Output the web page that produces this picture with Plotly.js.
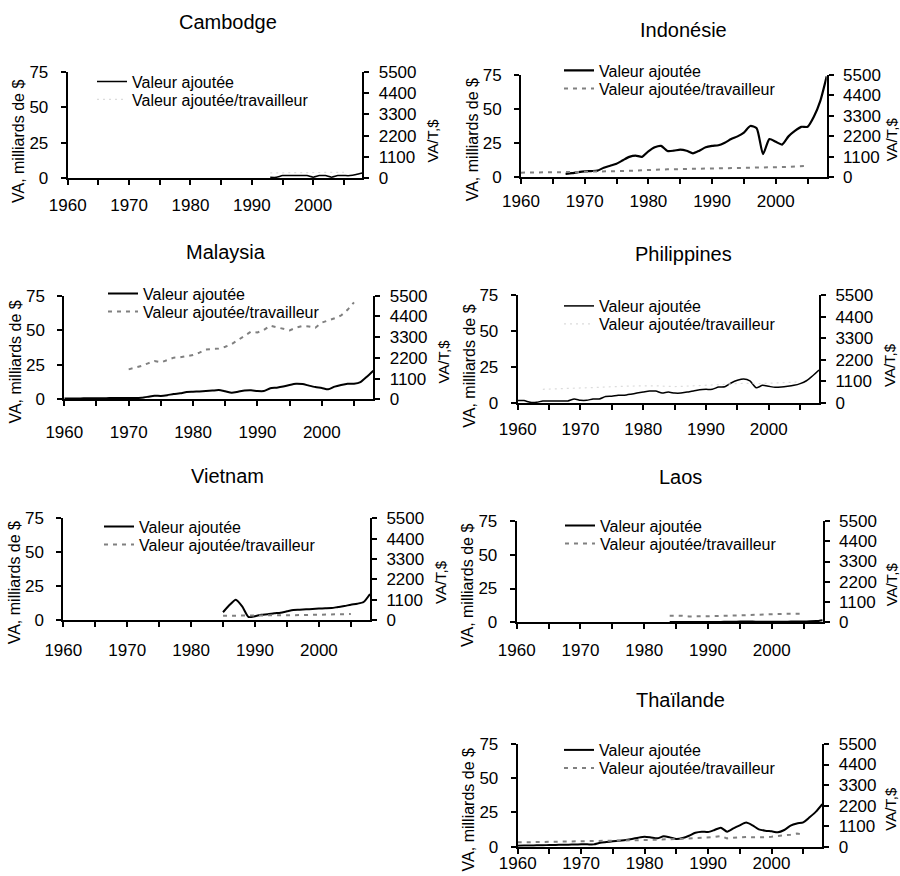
<!DOCTYPE html>
<html>
<head>
<meta charset="utf-8">
<script src="https://cdn.plot.ly/plotly-3.0.1.min.js"></script>
<style>html,body{margin:0;padding:0;background:#fff;}#chart{width:900px;height:876px;}</style>
</head>
<body>
<div id="chart"></div>
<script>
// ---------------- DATA ----------------
const countries = ['Cambodge','Indonésie','Malaysia','Philippines','Vietnam','Laos','Thaïlande'];
const seriesNames = ['Valeur ajoutée','Valeur ajoutée/travailleur'];
const leftTitle = 'VA, milliards de $';
const rightTitle = 'VA/T,$';
const leftTicks = [0,25,50,75];
const rightTicks = [0,1100,2200,3300,4400,5500];
const xTicks = [1960,1970,1980,1990,2000];

function yrs(a,b){const r=[];for(let y=a;y<=b;y++)r.push(y);return r;}

// Cambodge
const camYears = yrs(1993,2008);
const camVA = [0.7,0.7,1.9,1.9,1.9,1.9,1.9,0.8,1.9,1.9,0.8,1.9,1.9,1.9,2.6,3.7];
const camVATYears = yrs(1993,2005);
const camVAT = [280,285,290,290,295,295,290,290,295,300,300,305,310];

// Indonésie
const indYears = yrs(1967,2008);
const indVA = [2.5,3.0,3.8,4.4,4.6,4.9,7.0,8.5,10.0,12.5,15.0,15.9,15.0,19.0,22.0,23.0,19.3,19.5,20.3,19.5,17.6,19.5,22.0,23.0,23.5,25.4,28.0,30.0,32.8,37.6,36.0,17.0,28.0,26.0,24.0,30.0,34.0,37.0,37.0,44.5,56.0,74.0];
const indVATYears = yrs(1960,2005);
const indVAT = [250,250,255,255,260,260,265,270,280,290,300,300,305,310,320,330,340,350,370,390,410,420,430,430,435,440,440,450,460,470,480,490,495,500,505,510,515,520,520,525,540,550,565,580,600,620];

// Malaysia
const malYears = yrs(1960,2008);
const malVA = [0.5,0.5,0.6,0.7,0.7,0.8,0.8,0.9,0.9,1.0,1.0,0.9,1.1,1.8,2.6,2.4,3.0,3.9,4.3,5.3,5.5,5.7,6.0,6.3,6.7,5.8,4.8,5.5,6.3,6.5,6.0,6.0,8.0,8.4,9.2,10.4,11.3,11.0,9.9,8.9,8.2,7.2,9.2,10.4,11.3,11.3,12.5,16.4,20.7];
const malVATYears = yrs(1970,2005);
const malVAT = [1590,1660,1770,1910,2030,1960,2070,2210,2230,2300,2350,2475,2650,2670,2690,2790,2935,3150,3360,3590,3550,3680,3910,3820,3730,3660,3800,3890,3870,3800,4070,4170,4300,4450,4750,5150];

// Philippines
const phiYears = yrs(1960,2008);
const phiVA = [1.7,1.7,0.5,0.5,1.4,1.4,1.4,1.4,1.4,2.8,1.9,1.9,2.8,2.8,4.5,4.7,5.4,5.4,6.1,6.9,7.6,8.3,8.3,6.9,7.6,6.9,6.9,7.6,8.3,9.2,9.5,9.5,11.1,11.3,13.9,15.8,16.8,15.4,10.6,12.3,11.6,10.9,11.1,11.6,12.3,13.5,15.5,19.0,23.0];
const phiVATYears = yrs(1964,2005);
const phiVAT = [700,710,715,720,725,730,735,760,780,800,820,840,850,860,865,870,880,890,880,860,840,840,850,860,880,900,910,920,930,950,980,1000,1020,1010,980,990,1000,1010,1020,1040,1060,1080];

// Vietnam
const vieYears = yrs(1985,2008);
const vieVA = [5.7,11.0,15.0,10.0,2.2,2.8,3.8,4.2,4.9,5.4,6.4,7.4,7.6,7.9,8.1,8.4,8.6,8.8,9.6,10.3,11.3,12.0,13.3,19.2];
const vieVATYears = yrs(1985,2005);
const vieVAT = [230,230,225,225,225,230,235,240,245,250,255,260,265,270,280,290,300,305,315,320,325];

// Laos
const laoYears = yrs(1984,2008);
const laoVA = [0.2,0.2,0.2,0.2,0.2,0.3,0.3,0.3,0.3,0.4,0.4,0.5,0.5,0.5,0.4,0.4,0.4,0.4,0.4,0.5,0.5,0.6,0.7,0.9,1.6];
const laoVATYears = yrs(1984,2005);
const laoVAT = [360,365,350,320,310,320,330,340,345,350,355,362,375,390,410,430,452,455,460,465,468,470];

// Thaïlande
const thaYears = yrs(1960,2008);
const thaVA = [0.7,0.8,0.9,1.0,1.1,1.2,1.3,1.4,1.5,1.6,1.7,1.7,1.7,2.9,3.4,3.9,4.4,4.9,5.6,6.6,7.3,6.8,6.1,7.6,6.8,5.6,6.3,8.0,10.2,11.0,10.7,12.2,13.9,11.0,13.4,15.6,17.6,15.6,12.7,11.7,11.2,10.5,12.2,15.4,17.0,17.8,21.5,25.6,31.0];
const thaVATYears = yrs(1960,2005);
const thaVAT = [232,236,240,245,250,255,260,268,275,280,286,290,295,300,310,321,330,340,345,350,357,360,365,370,390,411,420,440,460,470,482,520,571,446,480,500,520,500,490,510,536,560,600,643,700,660];

const seriesData = [
  [camYears,camVA,camVATYears,camVAT],
  [indYears,indVA,indVATYears,indVAT],
  [malYears,malVA,malVATYears,malVAT],
  [phiYears,phiVA,phiVATYears,phiVAT],
  [vieYears,vieVA,vieVATYears,vieVAT],
  [laoYears,laoVA,laoVATYears,laoVAT],
  [thaYears,thaVA,thaVATYears,thaVAT]
];

// ---------------- LAYOUT (pixel boxes) ----------------
const W=900,H=876;
const FONT='Liberation Sans, Arial, Helvetica, sans-serif';
const panels = [
  {L:67.7,R:362.3,T:71.7,B:178.3, tx:228,ty:22, legX:131, lm:90.5, vaW:1.5, light:true,  xso:5},
  {L:521,R:826.7,T:75,B:177.3,   tx:683,ty:30, legX:598, lm:79.5, vaW:2.2, light:false, xso:2},
  {L:64.3,R:373.3,T:295.7,B:399.3,tx:226,ty:252,legX:142, lm:302.5,vaW:2,   light:false, xso:11},
  {L:517.7,R:819,T:295.3,B:403,  tx:683,ty:254,legX:598, lm:315,  vaW:1.5, light:true,  xso:5},
  {L:63.3,R:370,T:518.3,B:620,   tx:227,ty:476,legX:138, lm:535.5,vaW:2,   light:false, xso:9},
  {L:516.7,R:822.7,T:521,B:622.3,tx:680,ty:477,legX:599, lm:534.5,vaW:2,   light:false, xso:6},
  {L:517.7,R:822.3,T:744,B:846.7,tx:680,ty:700,legX:598, lm:759,  vaW:2,   light:false, xso:-5}
];
const fx = p => p/W;
const fy = p => 1 - p/H;

const traces = [];
const layout = {
  width:W, height:H,
  margin:{l:0,r:0,t:0,b:0},
  paper_bgcolor:'#fff', plot_bgcolor:'rgba(0,0,0,0)',
  font:{family:FONT, color:'#000', size:17},
  showlegend:true,
  annotations:[]
};

panels.forEach((p,i)=>{
  const n = i+1;
  const xs = n===1?'':String(n);
  const yL = n===1?'':String(n);
  const yR = String(n+7);
  const [yrA, va, yrB, vat] = seriesData[i];
  const lg1 = (2*i+1)===1 ? 'legend' : 'legend'+(2*i+1);
  const lg2 = 'legend'+(2*i+2);

  traces.push({
    x:yrA, y:va, xaxis:'x'+xs, yaxis:'y'+yL, type:'scatter', mode:'lines',
    name:seriesNames[0], legend:lg1,
    line:{color:'#000', width:p.vaW, shape:'spline', smoothing:0.6},
    hoverinfo:'x+y'
  });
  traces.push({
    x:yrB, y:vat, xaxis:'x'+xs, yaxis:'y'+yR, type:'scatter', mode:'lines',
    name:seriesNames[1], legend:lg2,
    line: p.light ? {color:'#dcdcdc', width:1.2, dash:'2px,4px'} : {color:'#808080', width:2, dash:'4px,5px'},
    hoverinfo:'x+y'
  });

  const xdom=[fx(p.L), fx(p.R)];
  const ydom=[fy(p.B), fy(p.T)];
  const tf = {size:17, family:FONT, color:'#000'};
  layout['xaxis'+xs] = {
    domain:xdom, anchor:'y'+yL, range:[1960,2008], tickmode:'array', tickvals:xTicks,
    ticks:'outside', ticklen:5, tickwidth:1.5, tickcolor:'#000',
    minor:{tickmode:'linear', tick0:1960, dtick:5, ticks:'outside', ticklen:5, tickwidth:1.5, tickcolor:'#000'},
    showline:true, linecolor:'#000', linewidth:2, showgrid:false, zeroline:false,
    ticklabelstandoff:p.xso, tickfont:tf, fixedrange:true
  };
  layout['yaxis'+yL] = {
    domain:ydom, anchor:'x'+xs, range:[0,75], tickmode:'array', tickvals:leftTicks,
    ticks:'outside', ticklen:5, tickwidth:1.5, tickcolor:'#000',
    showline:true, linecolor:'#000', linewidth:2, showgrid:false, zeroline:false,
    ticklabelstandoff:9, tickfont:tf, fixedrange:true
  };
  layout['yaxis'+yR] = {
    domain:ydom, anchor:'x'+xs, overlaying:'y'+yL, side:'right', range:[0,5500],
    tickmode:'array', tickvals:rightTicks,
    ticks:'outside', ticklen:5, tickwidth:1.5, tickcolor:'#000',
    showline:true, linecolor:'#000', linewidth:2, showgrid:false, zeroline:false,
    ticklabelstandoff:6, tickfont:tf, fixedrange:true
  };

  const legBase = {
    xanchor:'left', yanchor:'middle', bgcolor:'rgba(0,0,0,0)', borderwidth:0,
    font:{size:16, family:FONT, color:'#000'}, itemwidth:30, itemclick:false, itemdoubleclick:false
  };
  layout[lg1] = Object.assign({}, legBase, {x:fx(p.legX-39), y:fy(p.lm-9)});
  layout[lg2] = Object.assign({}, legBase, {x:fx(p.legX-39), y:fy(p.lm+9)});

  layout.annotations.push({
    text:countries[i], xref:'paper', yref:'paper', x:fx(p.tx), y:fy(p.ty),
    xanchor:'center', yanchor:'middle', showarrow:false, font:{size:20, family:FONT, color:'#000'}
  });
  layout.annotations.push({
    text:leftTitle, xref:'paper', yref:'paper', x:fx(p.L-49), y:fy(p.B-37),
    xanchor:'center', yanchor:'middle', textangle:-90, showarrow:false, font:{size:16, family:FONT, color:'#000'}
  });
  layout.annotations.push({
    text:rightTitle, xref:'paper', yref:'paper', x:fx(Math.min(p.R+70, 891)), y:fy(p.B-38),
    xanchor:'center', yanchor:'middle', textangle:-90, showarrow:false, font:{size:15, family:FONT, color:'#000'}
  });
});

Plotly.newPlot('chart', traces, layout, {displayModeBar:false, staticPlot:false});
</script>
</body>
</html>
